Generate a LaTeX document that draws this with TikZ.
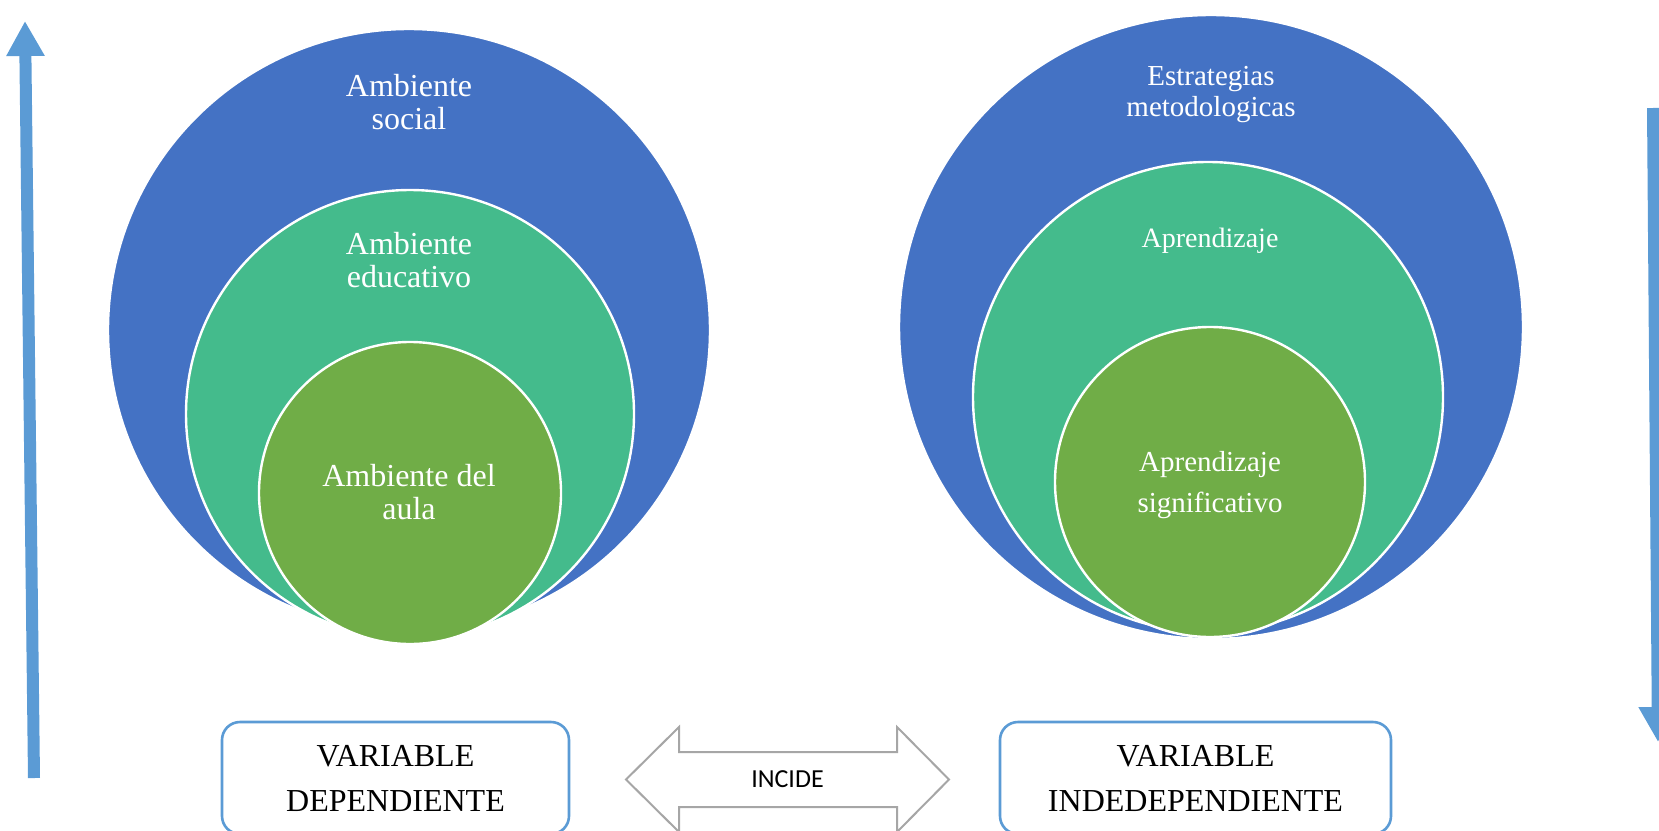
\documentclass[tikz,border=0pt]{standalone}
\usepackage{fontspec}
\setmainfont{Liberation Serif}
\newfontfamily\calibrifont{Carlito}
\usetikzlibrary{arrows.meta}
\definecolor{outerblue}{HTML}{4472C4}
\definecolor{midteal}{HTML}{44BB8C}
\definecolor{innergreen}{HTML}{70AD47}
\definecolor{arrowblue}{HTML}{5B9BD5}
\definecolor{incidegray}{HTML}{A6A6A6}
\begin{document}
\begin{tikzpicture}[x=0.5pt,y=-0.5pt,
    ring/.style={circle,draw=white,line width=1.2pt,inner sep=0pt},
    ringtext/.style={text=white,align=center,font=\fontsize{16}{16.5}\selectfont},
    ringsmall/.style={text=white,align=center,font=\fontsize{14.5}{15.5}\selectfont},
    varbox/.style={draw=arrowblue,line width=1.3pt,rounded corners=9pt,fill=white,
        minimum height=56pt,align=center,font=\fontsize{16}{22.5}\selectfont},
    sidearrow/.style={arrowblue,line width=6pt,-{Triangle[width=18pt,length=17.5pt]}}]
\clip (0,0) rectangle (1659,830);

%CIRCLES LEFT
\node[ring,fill=outerblue,minimum size=301pt] (social) at (409,330){};
\node[ring,fill=midteal,minimum size=224pt] (educativo) at (410,414){};
\node[ring,fill=innergreen,minimum size=151pt] (aula) at (410,493){};
\node[ringtext] (socialtxt) at (409,102.5){Ambiente\\social};
\node[ringtext] (educativotxt) at (409,260){Ambiente\\educativo};
\node[ringtext] (aulatxt) at (409,492){Ambiente del\\aula};

%CIRCLES RIGHT
\node[ring,fill=outerblue,minimum size=312pt] (estrategias) at (1211,327){};
\node[ring,fill=midteal,minimum size=235pt] (aprendizaje) at (1208,397){};
\node[ring,fill=innergreen,minimum size=155pt] (significativo) at (1210,482){};
\node[ringsmall] (estrategiastxt) at (1211,94.5){Estrategias\\metodologicas};
\node[ringsmall,font=\fontsize{14}{15}\selectfont] (aprendizajetxt) at (1210,240.5){Aprendizaje};
\node[ringsmall,font=\fontsize{14.5}{20.5}\selectfont] (significativotxt) at (1210,485.5){Aprendizaje\\significativo};

%BOXES
\node[varbox,minimum width=173.5pt] (dep) at (395.5,778){VARIABLE\\DEPENDIENTE};
\node[varbox,minimum width=195.5pt] (indep) at (1195.5,778){VARIABLE\\INDEDEPENDIENTE};

%INCIDE ARROW
\draw[incidegray,line width=1pt,fill=white,line join=miter]
    (626,779.5) -- (679,727) -- (679,752) -- (897,752) -- (897,727) -- (949,779.5)
    -- (897,832) -- (897,807) -- (679,807) -- (679,832) -- cycle;
\node[font=\calibrifont\fontsize{13}{13}\selectfont] (incide) at (787.5,779.5){INCIDE};

%SIDE ARROWS
\coordinate (upbot) at (34,778);
\coordinate (uptop) at (25,21);
\coordinate (downtop) at (1653,108);
\coordinate (downbot) at (1658,742);
\draw[sidearrow] (upbot) -- (uptop);
\draw[sidearrow] (downtop) -- (downbot);
\end{tikzpicture}
\end{document}
